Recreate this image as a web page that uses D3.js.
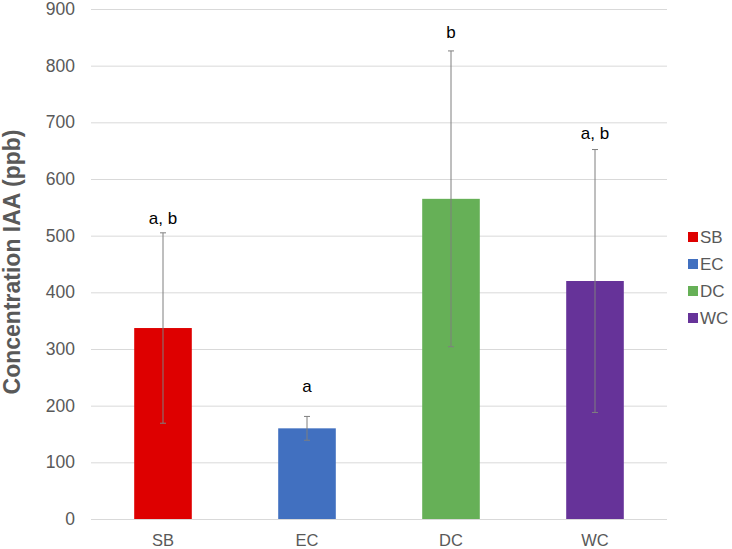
<!DOCTYPE html>
<html>
<head>
<meta charset="utf-8">
<script src="https://cdn.jsdelivr.net/npm/d3@7"></script>
<style>
  body { margin: 0; background: #fff; }
  svg text { font-family: "Liberation Sans", Arial, sans-serif; }
</style>
</head>
<body>
<div id="main"></div>
<script>
// chart data
var groups = ["SB", "EC", "DC", "WC"];
var meanIAA = [337, 160, 565, 420];
var errIAA = [168, 21, 261, 232];
var letters = ["a, b", "a", "b", "a, b"];
var letterAt = [520, 224, 849, 671];   // height of each letter label, in ppb
var colors = ["#de0000", "#4170c0", "#66b057", "#663399"];
var yTicks = [0, 100, 200, 300, 400, 500, 600, 700, 800, 900];

var ctx = { w: 732, h: 549, left: 91, right: 667, top: 9, bottom: 519 };

var svg = d3.select("#main").append("svg")
    .attr("width", ctx.w)
    .attr("height", ctx.h);

var x = d3.scaleBand().domain(groups)
    .range([ctx.left, ctx.right])
    .paddingInner(0.6).paddingOuter(0.3);
var y = d3.scaleLinear().domain([0, 900]).range([ctx.bottom, ctx.top]);

// gridlines + y labels
var yAxis = svg.append("g")
    .attr("transform", `translate(${ctx.left},0)`)
    .call(d3.axisLeft(y).tickValues(yTicks).tickSize(-(ctx.right - ctx.left)).tickPadding(16));
yAxis.select(".domain").remove();
yAxis.selectAll("line").attr("stroke", "#d9d9d9").attr("stroke-width", 1);
yAxis.selectAll("text").attr("fill", "#595959").style("font-size", "17.5px");

// x labels
var xAxis = svg.append("g")
    .attr("transform", `translate(0,${ctx.bottom})`)
    .call(d3.axisBottom(x).tickSize(0).tickPadding(15));
xAxis.select(".domain").remove();
xAxis.selectAll("text").attr("fill", "#595959").style("font-size", "16.5px");

// bars
svg.append("g").selectAll("rect")
    .data(groups)
    .join("rect")
    .attr("x", d => x(d))
    .attr("width", x.bandwidth())
    .attr("y", (d, i) => y(meanIAA[i]))
    .attr("height", (d, i) => y(0) - y(meanIAA[i]))
    .attr("fill", (d, i) => colors[i]);

// error bars
var eb = svg.append("g").attr("stroke", "#7f7f7f").attr("stroke-width", 1);
groups.forEach(function(g, i) {
    var cx = x(g) + x.bandwidth() / 2;
    var lo = y(meanIAA[i] - errIAA[i]), hi = y(meanIAA[i] + errIAA[i]);
    eb.append("line").attr("x1", cx).attr("x2", cx).attr("y1", lo).attr("y2", hi);
    eb.append("line").attr("x1", cx - 3).attr("x2", cx + 3).attr("y1", lo).attr("y2", lo);
    eb.append("line").attr("x1", cx - 3).attr("x2", cx + 3).attr("y1", hi).attr("y2", hi);
});

// significance letters
svg.append("g").selectAll("text")
    .data(groups)
    .join("text")
    .attr("x", d => x(d) + x.bandwidth() / 2)
    .attr("y", (d, i) => y(letterAt[i]))
    .attr("text-anchor", "middle")
    .attr("fill", "#000")
    .style("font-size", "17px")
    .text((d, i) => letters[i]);

// y-axis title
svg.append("text")
    .attr("transform", "translate(20,262) rotate(-90)")
    .attr("text-anchor", "middle")
    .attr("fill", "#595959")
    .style("font-size", "23px")
    .style("font-weight", "bold")
    .text("Concentration IAA (ppb)");

// legend
var legend = svg.append("g").attr("transform", "translate(688,237)");
groups.forEach(function(g, i) {
    var row = legend.append("g").attr("transform", `translate(0,${i * 27})`);
    row.append("rect").attr("x", 0).attr("y", -5).attr("width", 10).attr("height", 10).attr("fill", colors[i]);
    row.append("text").attr("x", 12).attr("y", 6)
        .attr("fill", "#595959").style("font-size", "17px").text(g);
});
</script>
</body>
</html>
